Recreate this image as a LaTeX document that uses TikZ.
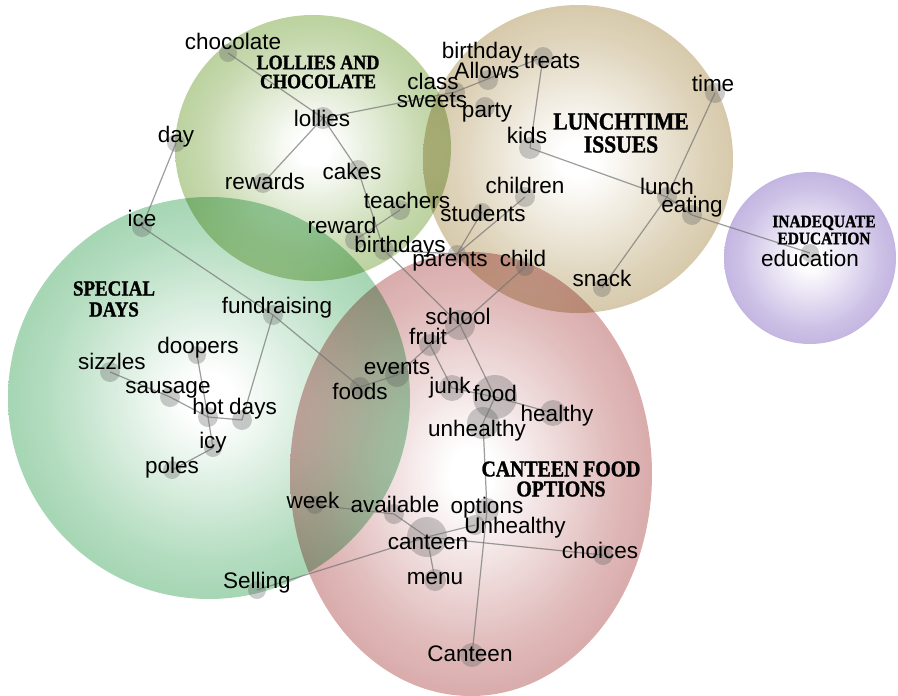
\documentclass[tikz,border=0pt]{standalone}
\usepackage{fontspec}
\setmainfont{Liberation Sans}
\newfontfamily\titlefont{Liberation Serif}[FakeStretch=0.88, FakeBold=1.4]

% theme colours
\definecolor{lolC}{RGB}{138,176,88}
\definecolor{spcC}{RGB}{100,184,124}
\definecolor{lunC}{RGB}{186,163,110}
\definecolor{canC}{RGB}{190,110,110}
\definecolor{eduC}{RGB}{152,128,204}
\definecolor{edgeC}{RGB}{115,115,115}
\definecolor{dotC}{RGB}{95,95,95}

% radial fill of a theme bubble: white core, coloured rim
\newcommand\themeshading[2]{%
  \pgfdeclareradialshading{#1}{\pgfpoint{0bp}{0bp}}{%
    color(0bp)=(white); color(3bp)=(white);
    color(20bp)=(#2!52!white); color(36bp)=(#2!86!white);
    color(46bp)=(#2); color(50bp)=(#2!86!black)}}
\themeshading{shLol}{lolC}
\themeshading{shSpc}{spcC}
\themeshading{shLun}{lunC}
\themeshading{shCan}{canC}
\themeshading{shEdu}{eduC}

\tikzset{
  theme/.style={shading=#1, blend mode=multiply, fill opacity=0.92},
  link/.style={draw=edgeC, line width=1.2pt, draw opacity=0.7},
  cdot/.style={circle, fill=dotC, fill opacity=0.32, draw=none,
               inner sep=0pt, minimum size=#1},
  lbl/.style={font=\fontsize{22.5}{27}\selectfont, inner sep=0pt,
              text height=16.5pt, text depth=4.5pt},
  ttl/.style={align=center, inner sep=0pt, text=black}
}

\begin{document}
\begin{tikzpicture}[x=1pt, y=-1pt]
\useasboundingbox (0,0) rectangle (898,696);

% ---- theme bubbles ----
\begin{scope}
\shade[theme=shSpc] (209,398) ellipse [x radius=201pt, y radius=201pt];
\shade[theme=shLol] (313,148) ellipse [x radius=138pt, y radius=133pt];
\shade[theme=shCan] (471,474) ellipse [x radius=181pt, y radius=222pt];
\shade[theme=shLun] (578,159) ellipse [x radius=155pt, y radius=154pt];
\shade[theme=shEdu] (810,258) ellipse [x radius=86pt, y radius=86pt];
\end{scope}

% ---- concept dots ----
% lollies and chocolate
\node[cdot=18pt] (d-chocolate) at (228,53) {};
\node[cdot=22pt] (d-lollies)   at (323,118) {};
\node[cdot=18pt] (d-day)       at (176,143) {};
\node[cdot=20pt] (d-rewards)   at (263,183) {};
\node[cdot=20pt] (d-cakes)     at (358,170) {};
\node[cdot=20pt] (d-teachers)  at (400,210) {};
\node[cdot=20pt] (d-reward)    at (355,240) {};
\node[cdot=20pt] (d-birthdays) at (384,250) {};
\node[cdot=20pt] (d-class)     at (455,92) {};
% lunchtime issues
\node[cdot=20pt] (d-allows)    at (488,80) {};
\node[cdot=20pt] (d-treats)    at (543,57) {};
\node[cdot=20pt] (d-party)     at (485,107) {};
\node[cdot=22pt] (d-kids)      at (530,148) {};
\node[cdot=20pt] (d-time)      at (715,93) {};
\node[cdot=20pt] (d-children)  at (525,197) {};
\node[cdot=18pt] (d-students)  at (482,212) {};
\node[cdot=20pt] (d-lunch)     at (667,197) {};
\node[cdot=20pt] (d-eating)    at (692,215) {};
\node[cdot=18pt] (d-parents)   at (457,254) {};
\node[cdot=18pt] (d-child)     at (525,267) {};
\node[cdot=18pt] (d-snack)     at (602,288) {};
% special days
\node[cdot=20pt] (d-ice)         at (142,227) {};
\node[cdot=20pt] (d-fundraising) at (273,315) {};
\node[cdot=18pt] (d-doopers)     at (197,355) {};
\node[cdot=20pt] (d-sizzles)     at (110,372) {};
\node[cdot=20pt] (d-sausage)     at (170,397) {};
\node[cdot=20pt] (d-hot)         at (208,417) {};
\node[cdot=20pt] (d-days)        at (242,420) {};
\node[cdot=18pt] (d-icy)         at (213,448) {};
\node[cdot=18pt] (d-poles)       at (172,470) {};
\node[cdot=20pt] (d-foods)       at (360,387) {};
\node[cdot=24pt] (d-events)      at (397,375) {};
% canteen food options
\node[cdot=30pt] (d-school)    at (460,325) {};
\node[cdot=22pt] (d-fruit)     at (430,345) {};
\node[cdot=26pt] (d-junk)      at (452,388) {};
\node[cdot=44pt] (d-food)      at (495,397) {};
\node[cdot=26pt] (d-healthy)   at (553,413) {};
\node[cdot=32pt] (d-unhealthy) at (483,423) {};
\node[cdot=18pt] (d-week)      at (315,505) {};
\node[cdot=20pt] (d-available) at (394,514) {};
\node[cdot=24pt] (d-options)   at (487,510) {};
\node[cdot=20pt] (d-Unhealthy) at (475,525) {};
\node[cdot=40pt] (d-canteen)   at (427,537) {};
\node[cdot=20pt] (d-choices)   at (603,555) {};
\node[cdot=22pt] (d-menu)      at (435,580) {};
\node[cdot=18pt] (d-selling)   at (257,590) {};
\node[cdot=24pt] (d-Canteen)   at (472,655) {};
% inadequate education
\node[cdot=18pt] (d-education) at (810,253) {};

% ---- links between concepts ----
\foreach \a/\b in {
  chocolate/lollies, lollies/class, lollies/rewards, lollies/cakes,
  cakes/birthdays, teachers/reward, birthdays/parents, birthdays/school,
  class/treats, treats/kids, kids/lunch, time/lunch, snack/lunch,
  lunch/eating, eating/education, parents/students, parents/children,
  day/ice, ice/fundraising, fundraising/foods, fundraising/days,
  doopers/hot, sizzles/sausage, sausage/hot, hot/days, hot/icy, icy/poles,
  foods/events, events/fruit, fruit/school, school/child, school/food,
  fruit/junk, junk/food, food/healthy, food/unhealthy,
  unhealthy/options, options/Canteen,
  canteen/Unhealthy, canteen/choices, canteen/menu, canteen/selling,
  canteen/available, available/week}
  \draw[link] (d-\a.center) -- (d-\b.center);

% ---- concept labels ----
\node[lbl] (t-chocolate) at (233,43) {chocolate};
\node[lbl] (t-lollies)   at (322,120) {lollies};
\node[lbl] (t-day)       at (176,136) {day};
\node[lbl] (t-rewards)   at (265,183) {rewards};
\node[lbl] (t-cakes)     at (352,173) {cakes};
\node[lbl] (t-teachers)  at (407,202) {teachers};
\node[lbl] (t-reward)    at (342,227) {reward};
\node[lbl] (t-birthdays) at (400,246) {birthdays};
\node[lbl] (t-class)     at (433,83) {class};
\node[lbl] (t-sweets)    at (432,101) {sweets};
\node[lbl] (t-birthday)  at (482,52) {birthday};
\node[lbl] (t-allows)    at (487,72) {Allows};
\node[lbl] (t-treats)    at (552,62) {treats};
\node[lbl] (t-party)     at (487,111) {party};
\node[lbl] (t-kids)      at (527,137) {kids};
\node[lbl] (t-time)      at (713,85) {time};
\node[lbl] (t-children)  at (525,187) {children};
\node[lbl] (t-students)  at (483,215) {students};
\node[lbl] (t-lunch)     at (667,188) {lunch};
\node[lbl] (t-eating)    at (692,206) {eating};
\node[lbl] (t-parents)   at (450,260) {parents};
\node[lbl] (t-child)     at (523,260) {child};
\node[lbl] (t-snack)     at (602,280) {snack};
\node[lbl] (t-ice)         at (142,220) {ice};
\node[lbl] (t-fundraising) at (277,307) {fundraising};
\node[lbl] (t-doopers)     at (198,347) {doopers};
\node[lbl] (t-sizzles)     at (112,363) {sizzles};
\node[lbl] (t-sausage)     at (168,387) {sausage};
\node[lbl] (t-hot)         at (208,408) {hot};
\node[lbl] (t-days)        at (253,408) {days};
\node[lbl] (t-icy)         at (213,442) {icy};
\node[lbl] (t-poles)       at (172,467) {poles};
\node[lbl] (t-foods)       at (360,393) {foods};
\node[lbl] (t-events)      at (397,368) {events};
\node[lbl] (t-school)    at (458,318) {school};
\node[lbl] (t-fruit)     at (428,338) {fruit};
\node[lbl] (t-junk)      at (450,387) {junk};
\node[lbl] (t-food)      at (495,395) {food};
\node[lbl] (t-healthy)   at (557,415) {healthy};
\node[lbl] (t-unhealthy) at (477,430) {unhealthy};
\node[lbl] (t-week)      at (313,502) {week};
\node[lbl] (t-available) at (395,506) {available};
\node[lbl] (t-options)   at (487,507) {options};
\node[lbl] (t-Unhealthy) at (515,527) {Unhealthy};
\node[lbl] (t-canteen)   at (428,543) {canteen};
\node[lbl] (t-choices)   at (600,552) {choices};
\node[lbl] (t-menu)      at (435,578) {menu};
\node[lbl] (t-selling)   at (257,582) {Selling};
\node[lbl] (t-Canteen)   at (470,655) {Canteen};
\node[lbl] (t-education) at (810,260) {education};

% ---- theme titles ----
\node[ttl, font=\titlefont\bfseries\fontsize{20.5}{19}\selectfont]
  (h-lollies) at (318,72) {LOLLIES AND\\CHOCOLATE};
\node[ttl, font=\titlefont\bfseries\fontsize{24.5}{23}\selectfont]
  (h-lunch) at (621,133) {LUNCHTIME\\ISSUES};
\node[ttl, font=\titlefont\bfseries\fontsize{21.5}{21}\selectfont]
  (h-special) at (114,299) {SPECIAL\\DAYS};
\node[ttl, font=\titlefont\bfseries\fontsize{22.5}{20}\selectfont]
  (h-canteen) at (561,479) {CANTEEN FOOD\\OPTIONS};
\node[ttl, font=\titlefont\bfseries\fontsize{17.5}{17}\selectfont]
  (h-edu) at (824,230) {INADEQUATE\\EDUCATION};
\end{tikzpicture}
\end{document}
